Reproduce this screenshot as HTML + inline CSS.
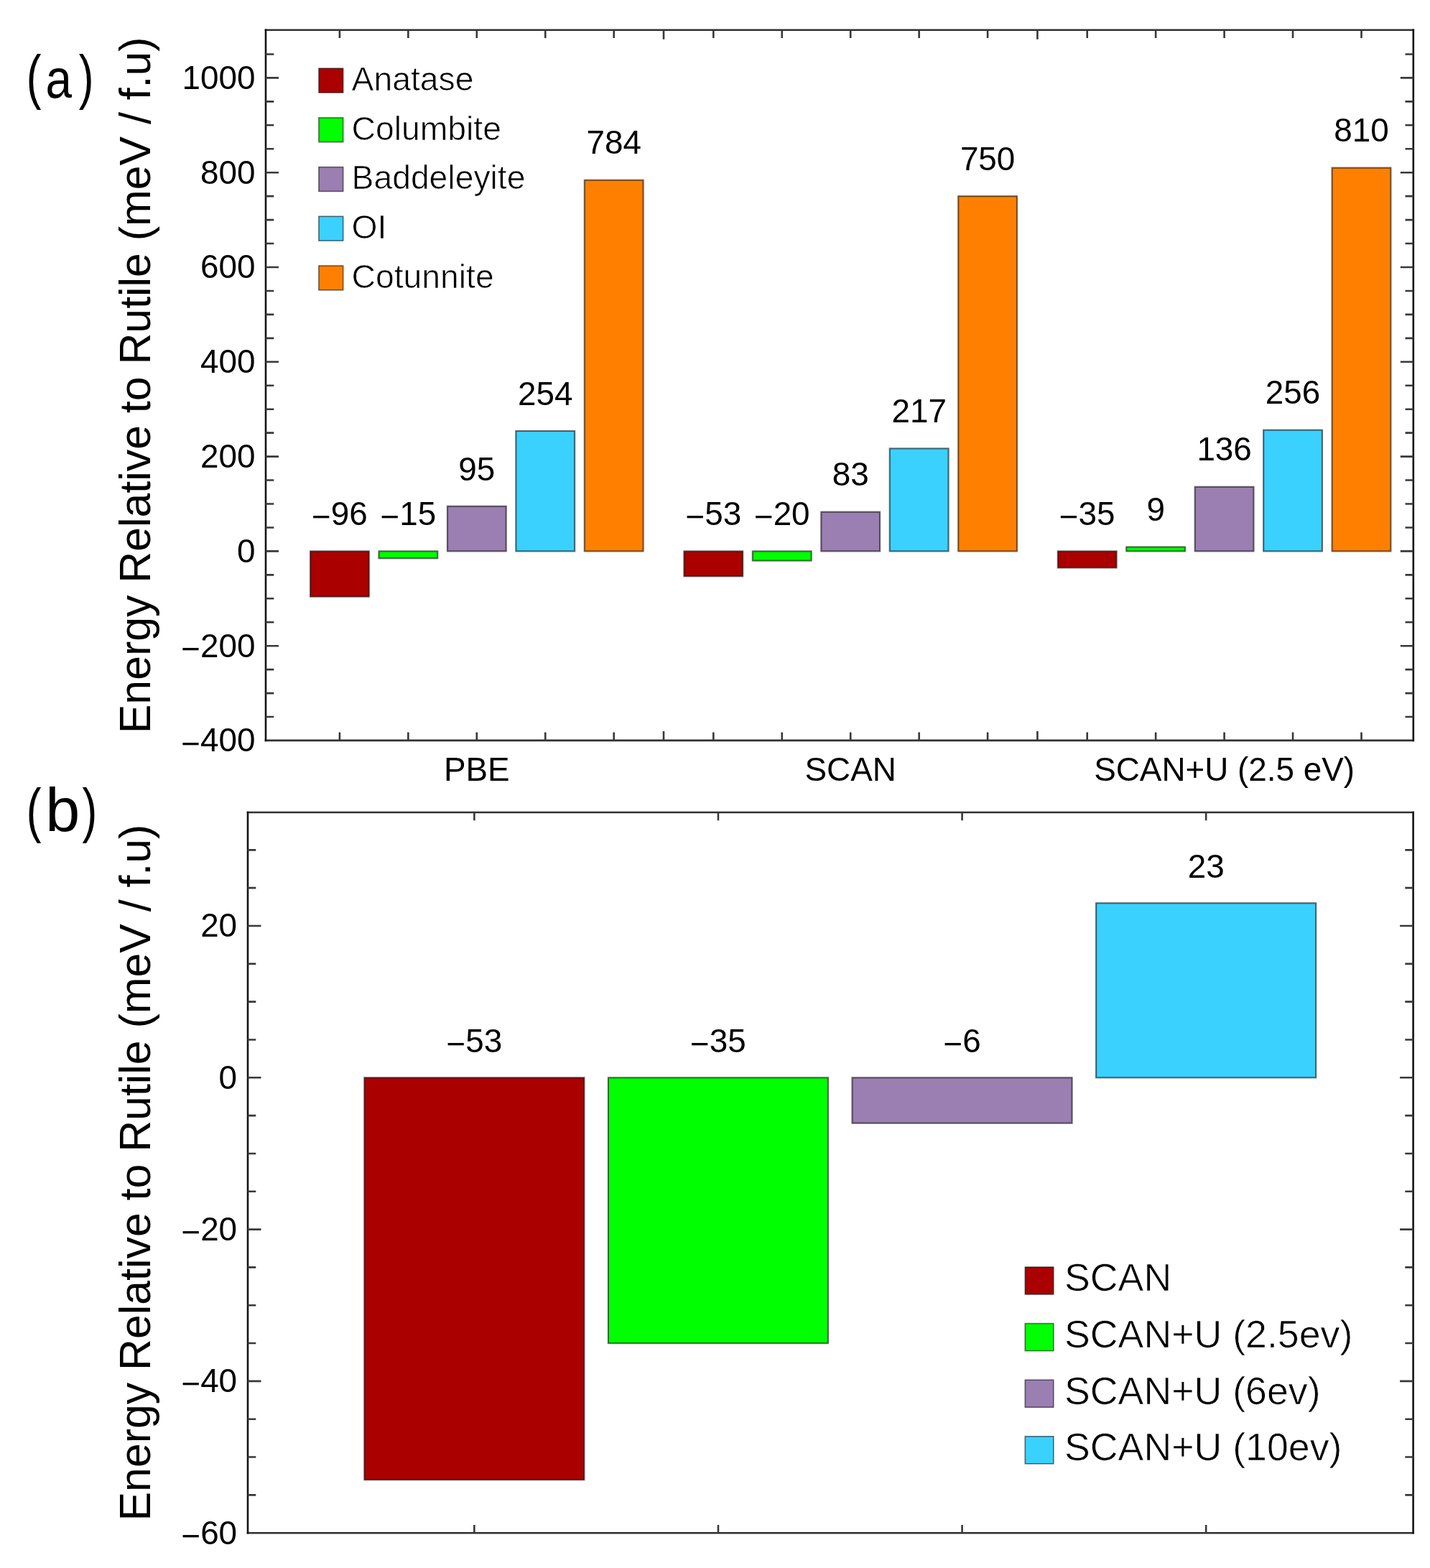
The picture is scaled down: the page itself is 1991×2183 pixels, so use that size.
<!DOCTYPE html>
<html><head><meta charset="utf-8"><title>Energy relative to rutile</title>
<style>
html,body{margin:0;padding:0;background:#fff;}
svg{display:block;}
text{font-family:"Liberation Sans", Arial, sans-serif;fill:#000;}
.lg{stroke:#fff;stroke-width:0.7px;paint-order:normal;}
</style></head>
<body>
<svg width="1991" height="2183" viewBox="0 0 1991 2183">
<rect width="1991" height="2183" fill="#fff"/>
<g>
<rect x="432" y="767.4" width="81.8" height="63.26" fill="#AB0000" stroke="rgba(0,0,0,0.55)" stroke-width="2.2"/>
<rect x="527.45" y="767.4" width="81.8" height="9.88" fill="#00FF00" stroke="rgba(0,0,0,0.55)" stroke-width="2.2"/>
<rect x="622.9" y="704.79" width="81.8" height="62.61" fill="#9B7EB2" stroke="rgba(0,0,0,0.55)" stroke-width="2.2"/>
<rect x="718.35" y="600.01" width="81.8" height="167.39" fill="#3AD1FF" stroke="rgba(0,0,0,0.55)" stroke-width="2.2"/>
<rect x="813.8" y="250.74" width="81.8" height="516.66" fill="#FF8000" stroke="rgba(0,0,0,0.55)" stroke-width="2.2"/>
<rect x="952.4" y="767.4" width="81.8" height="34.93" fill="#AB0000" stroke="rgba(0,0,0,0.55)" stroke-width="2.2"/>
<rect x="1047.85" y="767.4" width="81.8" height="13.18" fill="#00FF00" stroke="rgba(0,0,0,0.55)" stroke-width="2.2"/>
<rect x="1143.3" y="712.7" width="81.8" height="54.7" fill="#9B7EB2" stroke="rgba(0,0,0,0.55)" stroke-width="2.2"/>
<rect x="1238.75" y="624.4" width="81.8" height="143" fill="#3AD1FF" stroke="rgba(0,0,0,0.55)" stroke-width="2.2"/>
<rect x="1334.2" y="273.15" width="81.8" height="494.25" fill="#FF8000" stroke="rgba(0,0,0,0.55)" stroke-width="2.2"/>
<rect x="1472.8" y="767.4" width="81.8" height="23.07" fill="#AB0000" stroke="rgba(0,0,0,0.55)" stroke-width="2.2"/>
<rect x="1568.25" y="761.47" width="81.8" height="5.93" fill="#00FF00" stroke="rgba(0,0,0,0.55)" stroke-width="2.2"/>
<rect x="1663.7" y="677.78" width="81.8" height="89.62" fill="#9B7EB2" stroke="rgba(0,0,0,0.55)" stroke-width="2.2"/>
<rect x="1759.15" y="598.7" width="81.8" height="168.7" fill="#3AD1FF" stroke="rgba(0,0,0,0.55)" stroke-width="2.2"/>
<rect x="1854.6" y="233.61" width="81.8" height="533.79" fill="#FF8000" stroke="rgba(0,0,0,0.55)" stroke-width="2.2"/>
<text x="472.9" y="731.1" text-anchor="middle" font-size="45.8"><tspan dy="4.2">−</tspan><tspan dy="-4.2">96</tspan></text>
<text x="568.35" y="731.1" text-anchor="middle" font-size="45.8"><tspan dy="4.2">−</tspan><tspan dy="-4.2">15</tspan></text>
<text x="663.8" y="668.5" text-anchor="middle" font-size="45.8">95</text>
<text x="759.25" y="563.71" text-anchor="middle" font-size="45.8">254</text>
<text x="854.7" y="214.44" text-anchor="middle" font-size="45.8">784</text>
<text x="993.3" y="731.1" text-anchor="middle" font-size="45.8"><tspan dy="4.2">−</tspan><tspan dy="-4.2">53</tspan></text>
<text x="1088.75" y="731.1" text-anchor="middle" font-size="45.8"><tspan dy="4.2">−</tspan><tspan dy="-4.2">20</tspan></text>
<text x="1184.2" y="676.4" text-anchor="middle" font-size="45.8">83</text>
<text x="1279.65" y="588.1" text-anchor="middle" font-size="45.8">217</text>
<text x="1375.1" y="236.85" text-anchor="middle" font-size="45.8">750</text>
<text x="1513.7" y="731.1" text-anchor="middle" font-size="45.8"><tspan dy="4.2">−</tspan><tspan dy="-4.2">35</tspan></text>
<text x="1609.15" y="725.17" text-anchor="middle" font-size="45.8">9</text>
<text x="1704.6" y="641.48" text-anchor="middle" font-size="45.8">136</text>
<text x="1800.05" y="562.4" text-anchor="middle" font-size="45.8">256</text>
<text x="1895.5" y="197.31" text-anchor="middle" font-size="45.8">810</text>
</g>
<path d="M368.7 41.8H1969.1M368.7 1030.9H1969.1" stroke="#303030" stroke-width="2.6" fill="none"/>
<path d="M370 40.5V1032.2M1967.8 40.5V1032.2" stroke="#141414" stroke-width="2.6" fill="none"/>
<path d="M370 998.05h11.3M1967.8 998.05h-11.3M370 965.1h11.3M1967.8 965.1h-11.3M370 932.15h11.3M1967.8 932.15h-11.3M370 899.2h18M1967.8 899.2h-18M370 866.25h11.3M1967.8 866.25h-11.3M370 833.3h11.3M1967.8 833.3h-11.3M370 800.35h11.3M1967.8 800.35h-11.3M370 767.4h18M1967.8 767.4h-18M370 734.45h11.3M1967.8 734.45h-11.3M370 701.5h11.3M1967.8 701.5h-11.3M370 668.55h11.3M1967.8 668.55h-11.3M370 635.6h18M1967.8 635.6h-18M370 602.65h11.3M1967.8 602.65h-11.3M370 569.7h11.3M1967.8 569.7h-11.3M370 536.75h11.3M1967.8 536.75h-11.3M370 503.8h18M1967.8 503.8h-18M370 470.85h11.3M1967.8 470.85h-11.3M370 437.9h11.3M1967.8 437.9h-11.3M370 404.95h11.3M1967.8 404.95h-11.3M370 372h18M1967.8 372h-18M370 339.05h11.3M1967.8 339.05h-11.3M370 306.1h11.3M1967.8 306.1h-11.3M370 273.15h11.3M1967.8 273.15h-11.3M370 240.2h18M1967.8 240.2h-18M370 207.25h11.3M1967.8 207.25h-11.3M370 174.3h11.3M1967.8 174.3h-11.3M370 141.35h11.3M1967.8 141.35h-11.3M370 108.4h18M1967.8 108.4h-18M370 75.45h11.3M1967.8 75.45h-11.3M472.9 1030.9v-11.3M472.9 41.8v11.3M568.35 1030.9v-11.3M568.35 41.8v11.3M663.8 1030.9v-11.3M663.8 41.8v11.3M759.25 1030.9v-11.3M759.25 41.8v11.3M854.7 1030.9v-11.3M854.7 41.8v11.3M993.3 1030.9v-11.3M993.3 41.8v11.3M1088.75 1030.9v-11.3M1088.75 41.8v11.3M1184.2 1030.9v-11.3M1184.2 41.8v11.3M1279.65 1030.9v-11.3M1279.65 41.8v11.3M1375.1 1030.9v-11.3M1375.1 41.8v11.3M1513.7 1030.9v-11.3M1513.7 41.8v11.3M1609.15 1030.9v-11.3M1609.15 41.8v11.3M1704.6 1030.9v-11.3M1704.6 41.8v11.3M1800.05 1030.9v-11.3M1800.05 41.8v11.3M1895.5 1030.9v-11.3M1895.5 41.8v11.3M924 1030.9v-13M924 41.8v13M1444.4 1030.9v-13M1444.4 41.8v13" stroke="#383838" stroke-width="2.6" fill="none"/>
<text x="355.4" y="1046.3" text-anchor="end" font-size="45.8"><tspan dy="4.2">−</tspan><tspan dy="-4.2">400</tspan></text>
<text x="355.4" y="914.5" text-anchor="end" font-size="45.8"><tspan dy="4.2">−</tspan><tspan dy="-4.2">200</tspan></text>
<text x="355.4" y="782.7" text-anchor="end" font-size="45.8">0</text>
<text x="355.4" y="650.9" text-anchor="end" font-size="45.8">200</text>
<text x="355.4" y="519.1" text-anchor="end" font-size="45.8">400</text>
<text x="355.4" y="387.3" text-anchor="end" font-size="45.8">600</text>
<text x="355.4" y="255.5" text-anchor="end" font-size="45.8">800</text>
<text x="355.4" y="123.7" text-anchor="end" font-size="45.8">1000</text>
<text x="663.8" y="1086.8" text-anchor="middle" font-size="45.8">PBE</text>
<text x="1184.2" y="1086.8" text-anchor="middle" font-size="45.8">SCAN</text>
<text x="1704.6" y="1086.8" text-anchor="middle" font-size="45.8">SCAN+U (2.5 eV)</text>
<rect x="443.9" y="95.2" width="33.8" height="33.8" fill="#AB0000" stroke="rgba(0,0,0,0.55)" stroke-width="1.6"/>
<text x="489.5" y="125.9" font-size="46.3" class="lg">Anatase</text>
<rect x="443.9" y="163.9" width="33.8" height="33.8" fill="#00FF00" stroke="rgba(0,0,0,0.55)" stroke-width="1.6"/>
<text x="489.5" y="194.6" font-size="46.3" class="lg">Columbite</text>
<rect x="443.9" y="232.6" width="33.8" height="33.8" fill="#9B7EB2" stroke="rgba(0,0,0,0.55)" stroke-width="1.6"/>
<text x="489.5" y="263.3" font-size="46.3" class="lg">Baddeleyite</text>
<rect x="443.9" y="301.3" width="33.8" height="33.8" fill="#3AD1FF" stroke="rgba(0,0,0,0.55)" stroke-width="1.6"/>
<text x="489.5" y="332" font-size="46.3" class="lg">OI</text>
<rect x="443.9" y="370" width="33.8" height="33.8" fill="#FF8000" stroke="rgba(0,0,0,0.55)" stroke-width="1.6"/>
<text x="489.5" y="400.7" font-size="46.3" class="lg">Cotunnite</text>
<text transform="translate(208.9 536.35) rotate(-90)" text-anchor="middle" font-size="60.8">Energy Relative to Rutile (meV / f.u)</text>
<text transform="translate(0 135.8) scale(1 1.035)" font-size="80"><tspan x="36.7" textLength="20.7" lengthAdjust="spacingAndGlyphs">(</tspan><tspan x="63.5" font-size="73" textLength="36.5" lengthAdjust="spacingAndGlyphs">a</tspan><tspan x="109.8" textLength="20.7" lengthAdjust="spacingAndGlyphs">)</tspan></text>
<rect x="507.3" y="1500.3" width="306.1" height="559.94" fill="#AB0000" stroke="rgba(0,0,0,0.55)" stroke-width="2.2"/>
<rect x="846.9" y="1500.3" width="306.1" height="369.77" fill="#00FF00" stroke="rgba(0,0,0,0.55)" stroke-width="2.2"/>
<rect x="1186.5" y="1500.3" width="306.1" height="63.39" fill="#9B7EB2" stroke="rgba(0,0,0,0.55)" stroke-width="2.2"/>
<rect x="1526.1" y="1257.31" width="306.1" height="242.99" fill="#3AD1FF" stroke="rgba(0,0,0,0.55)" stroke-width="2.2"/>
<text x="660.35" y="1464.8" text-anchor="middle" font-size="45.8"><tspan dy="4.2">−</tspan><tspan dy="-4.2">53</tspan></text>
<text x="999.95" y="1464.8" text-anchor="middle" font-size="45.8"><tspan dy="4.2">−</tspan><tspan dy="-4.2">35</tspan></text>
<text x="1339.55" y="1464.8" text-anchor="middle" font-size="45.8"><tspan dy="4.2">−</tspan><tspan dy="-4.2">6</tspan></text>
<text x="1679.15" y="1221.81" text-anchor="middle" font-size="45.8">23</text>
<path d="M343.7 1131H1968.9M343.7 2134.2H1968.9" stroke="#303030" stroke-width="2.6" fill="none"/>
<path d="M345 1129.7V2135.5M1967.6 1129.7V2135.5" stroke="#141414" stroke-width="2.6" fill="none"/>
<path d="M345 2081.38h11.3M1967.6 2081.38h-11.3M345 2028.55h11.3M1967.6 2028.55h-11.3M345 1975.72h11.3M1967.6 1975.72h-11.3M345 1922.9h18.5M1967.6 1922.9h-18.5M345 1870.07h11.3M1967.6 1870.07h-11.3M345 1817.25h11.3M1967.6 1817.25h-11.3M345 1764.42h11.3M1967.6 1764.42h-11.3M345 1711.6h18.5M1967.6 1711.6h-18.5M345 1658.77h11.3M1967.6 1658.77h-11.3M345 1605.95h11.3M1967.6 1605.95h-11.3M345 1553.12h11.3M1967.6 1553.12h-11.3M345 1500.3h18.5M1967.6 1500.3h-18.5M345 1447.47h11.3M1967.6 1447.47h-11.3M345 1394.65h11.3M1967.6 1394.65h-11.3M345 1341.83h11.3M1967.6 1341.83h-11.3M345 1289h18.5M1967.6 1289h-18.5M345 1236.17h11.3M1967.6 1236.17h-11.3M345 1183.35h11.3M1967.6 1183.35h-11.3M660.35 2134.2v-11.3M660.35 1131v11.3M999.95 2134.2v-11.3M999.95 1131v11.3M1339.55 2134.2v-11.3M1339.55 1131v11.3M1679.15 2134.2v-11.3M1679.15 1131v11.3" stroke="#383838" stroke-width="2.6" fill="none"/>
<text x="330.1" y="2149.5" text-anchor="end" font-size="45.8"><tspan dy="4.2">−</tspan><tspan dy="-4.2">60</tspan></text>
<text x="330.1" y="1938.2" text-anchor="end" font-size="45.8"><tspan dy="4.2">−</tspan><tspan dy="-4.2">40</tspan></text>
<text x="330.1" y="1726.9" text-anchor="end" font-size="45.8"><tspan dy="4.2">−</tspan><tspan dy="-4.2">20</tspan></text>
<text x="330.1" y="1515.6" text-anchor="end" font-size="45.8">0</text>
<text x="330.1" y="1304.3" text-anchor="end" font-size="45.8">20</text>
<rect x="1427.3" y="1764" width="39.5" height="38" fill="#AB0000" stroke="rgba(0,0,0,0.55)" stroke-width="1.6"/>
<text x="1482" y="1797.3" font-size="53.7" class="lg">SCAN</text>
<rect x="1427.3" y="1842.6" width="39.5" height="38" fill="#00FF00" stroke="rgba(0,0,0,0.55)" stroke-width="1.6"/>
<text x="1482" y="1875.9" font-size="53.7" class="lg">SCAN+U (2.5ev)</text>
<rect x="1427.3" y="1921.2" width="39.5" height="38" fill="#9B7EB2" stroke="rgba(0,0,0,0.55)" stroke-width="1.6"/>
<text x="1482" y="1954.5" font-size="53.7" class="lg">SCAN+U (6ev)</text>
<rect x="1427.3" y="1999.8" width="39.5" height="38" fill="#3AD1FF" stroke="rgba(0,0,0,0.55)" stroke-width="1.6"/>
<text x="1482" y="2033.1" font-size="53.7" class="lg">SCAN+U (10ev)</text>
<text transform="translate(208.9 1632.6) rotate(-90)" text-anchor="middle" font-size="60.8">Energy Relative to Rutile (meV / f.u)</text>
<text transform="translate(0 1156.8) scale(1 1.035)" font-size="80"><tspan x="36.7" textLength="20.7" lengthAdjust="spacingAndGlyphs">(</tspan><tspan x="63.2" font-size="82.5" textLength="48" lengthAdjust="spacingAndGlyphs">b</tspan><tspan x="114.6" textLength="20.7" lengthAdjust="spacingAndGlyphs">)</tspan></text>
</svg>
</body></html>
